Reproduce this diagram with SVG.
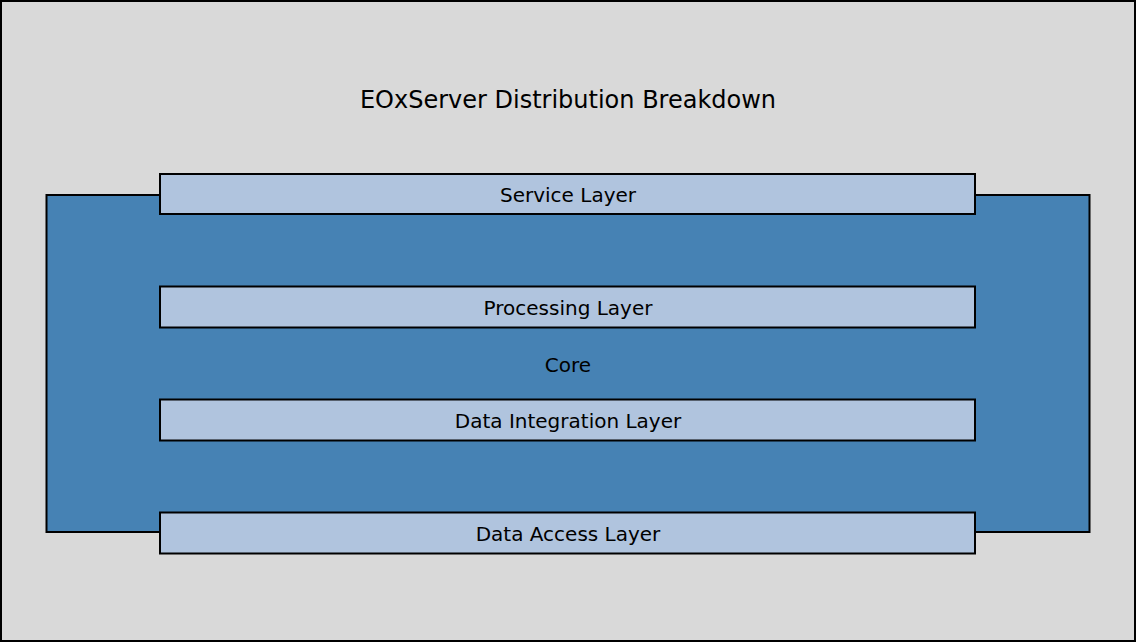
<svg xmlns="http://www.w3.org/2000/svg" width="1136" height="642" viewBox="0 0 1136 642">
<style>
.layer{fill:#b0c4de;stroke:#000;stroke-width:2}
.lbl{font-family:"DejaVu Sans",sans-serif;font-size:20px;fill:#000;text-anchor:middle;dominant-baseline:central}
</style>
<rect x="1" y="1" width="1134" height="640" fill="#d9d9d9" stroke="#000" stroke-width="2"/>
<text class="lbl" x="568" y="100" style="font-size:24px">EOxServer Distribution Breakdown</text>
<g id="core">
<rect x="46.5" y="195" width="1043" height="337" fill="#4682b4" stroke="#000" stroke-width="2"/>
<text class="lbl" x="568" y="365">Core</text>
</g>
<g id="service">
<rect class="layer" x="160" y="174" width="815" height="40"/>
<text class="lbl" x="568" y="195">Service Layer</text>
</g>
<g id="processing">
<rect class="layer" x="160" y="286.5" width="815" height="41"/>
<text class="lbl" x="568" y="308">Processing Layer</text>
</g>
<g id="integration">
<rect class="layer" x="160" y="399.5" width="815" height="41"/>
<text class="lbl" x="568" y="421">Data Integration Layer</text>
</g>
<g id="access">
<rect class="layer" x="160" y="512.5" width="815" height="41"/>
<text class="lbl" x="568" y="534">Data Access Layer</text>
</g>
<g id="connectors"></g>
</svg>
